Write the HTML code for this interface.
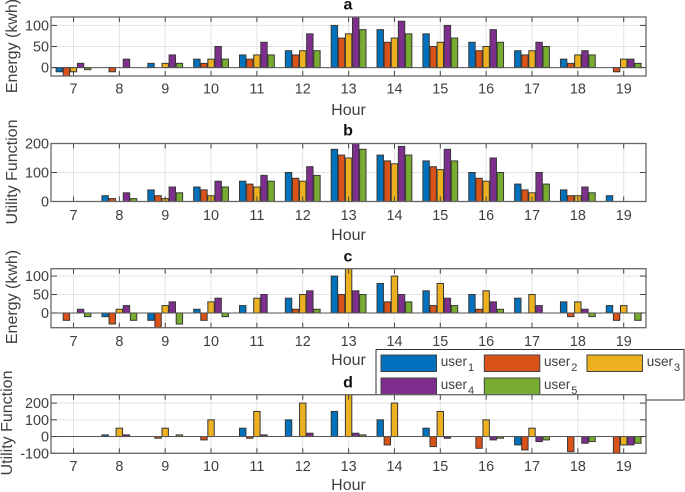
<!DOCTYPE html>
<html>
<head>
<meta charset="utf-8">
<title>Energy and utility by hour</title>
<style>
html,body{margin:0;padding:0;background:#fff;width:685px;height:492px;overflow:hidden}
svg{display:block;font-family:"Liberation Sans",sans-serif}
</style>
</head>
<body>
<svg id="chart" width="685" height="492" viewBox="0 0 685 492" xmlns="http://www.w3.org/2000/svg"></svg>
<script>
const hours = [7,8,9,10,11,12,13,14,15,16,17,18,19];
const seriesNames = ['user1','user2','user3','user4','user5'];

const panelAUser1 = [-10,0,10,20,30,40,100,90,80,60,40,20,0];
const panelAUser2 = [-20,-10,0,10,20,30,70,60,50,40,30,10,-10];
const panelAUser3 = [-10,0,10,20,30,40,80,70,60,50,40,30,20];
const panelAUser4 = [10,20,30,50,60,80,120,110,100,90,60,40,20];
const panelAUser5 = [-5,0,10,20,30,40,90,80,70,60,50,30,10];

const panelBUser1 = [0,20,40,50,70,100,180,160,140,100,60,40,20];
const panelBUser2 = [0,10,20,40,60,80,160,140,120,80,40,20,0];
const panelBUser3 = [0,0,10,20,50,70,150,130,110,70,30,20,0];
const panelBUser4 = [0,30,50,70,90,120,200,190,180,150,100,50,0];
const panelBUser5 = [0,10,30,50,70,90,180,160,140,100,60,30,0];

const panelCUser1 = [0,-10,-20,10,20,40,100,80,60,50,40,30,20];
const panelCUser2 = [-20,-30,-40,-20,0,10,50,30,20,10,0,-10,-20];
const panelCUser3 = [0,10,20,30,40,50,120,100,80,60,50,30,20];
const panelCUser4 = [10,20,30,40,50,60,60,50,40,30,20,10,0];
const panelCUser5 = [-10,-20,-30,-10,0,10,50,30,20,10,0,-10,-20];

const panelDUser1 = [0,10,0,0,50,100,150,100,50,0,-50,0,0];
const panelDUser2 = [0,0,-10,-20,-10,0,0,-50,-60,-70,-80,-90,-100];
const panelDUser3 = [0,50,50,100,150,200,250,200,150,100,50,0,-50];
const panelDUser4 = [0,10,0,0,10,20,20,0,-10,-20,-30,-40,-50];
const panelDUser5 = [0,0,10,0,0,0,10,0,0,-10,-20,-30,-40];

const panelATicks = [0,50,100];
const panelBTicks = [0,100,200];
const panelCTicks = [0,50,100];
const panelDTicks = [-100,0,100,200];

const colors = ['#0072BD','#D95319','#EDB120','#7E2F8E','#77AC30'];
const NS = 'http://www.w3.org/2000/svg';
const root = document.getElementById('chart');

function mk(parent, tag, attrs, text) {
  const el = document.createElementNS(NS, tag);
  for (const k in attrs) el.setAttribute(k, attrs[k]);
  if (text !== undefined) el.textContent = text;
  parent.appendChild(el);
  return el;
}

const axLeft = 51, axRight = 646;
function xScale(h) { return 73.5 + (h - 7) * 45.85; }

function drawPanel(p) {
  const g = mk(root, 'g', {});
  
  
  const y = v => p.top + (p.ymax - v) * (p.bottom - p.top) / (p.ymax - p.ymin);
  const bg = mk(g, 'rect', {x:axLeft, y:p.top, width:axRight-axLeft, height:p.bottom-p.top, fill:'#fff'});
  
  

  const clipId = 'clip-' + p.id;
  const cp = mk(g, 'clipPath', {id:clipId});
  mk(cp, 'rect', {x:axLeft, y:p.top, width:axRight-axLeft, height:p.bottom-p.top});

  hours.forEach(h => {
    const line = mk(g, 'line', {x1:xScale(h), x2:xScale(h), y1:p.top, y2:p.bottom, stroke:'#e2e2e2', 'stroke-width':1});
    
    
  });
  p.ticks.forEach(t => {
    const line = mk(g, 'line', {x1:axLeft, x2:axRight, y1:y(t), y2:y(t), stroke:'#e2e2e2', 'stroke-width':1});
    
    
  });

  const bars = mk(g, 'g', {'clip-path':'url(#' + clipId + ')'});
  p.series.forEach((vals, s) => {
    vals.forEach((v, i) => {
      if (v === 0) return;
      const cx = xScale(hours[i]) + (s - 2) * 7.1;
      const y0 = y(0), yv = y(v);
      const bar = mk(bars, 'rect', {x:cx-3.2, y:Math.min(y0,yv), width:6.4, height:Math.abs(yv-y0), fill:colors[s], stroke:'#383838', 'stroke-width':1});
      
      
    });
  });

  const base = mk(g, 'line', {x1:axLeft, x2:axRight, y1:y(0), y2:y(0), stroke:'#555', 'stroke-width':1});
  
  

  hours.forEach(h => {
    mk(g, 'line', {x1:xScale(h), x2:xScale(h), y1:p.top, y2:p.top+5, stroke:'#444', 'stroke-width':1});
    mk(g, 'line', {x1:xScale(h), x2:xScale(h), y1:p.bottom-5, y2:p.bottom, stroke:'#444', 'stroke-width':1});
    const lab = mk(g, 'text', {x:xScale(h), y:p.tickBase, 'text-anchor':'middle', 'font-size':14.4, fill:'#404040'}, String(h));
    
    
  });
  p.ticks.forEach(t => {
    mk(g, 'line', {x1:axLeft, x2:axLeft+6, y1:y(t), y2:y(t), stroke:'#444', 'stroke-width':1});
    mk(g, 'line', {x1:axRight-6, x2:axRight, y1:y(t), y2:y(t), stroke:'#444', 'stroke-width':1});
    const lab = mk(g, 'text', {x:49, y:y(t)+5, 'text-anchor':'end', 'font-size':14.4, fill:'#404040'}, String(t));
    
    
  });

  const frame = mk(g, 'rect', {x:axLeft, y:p.top, width:axRight-axLeft, height:p.bottom-p.top, fill:'none', stroke:'#666', 'stroke-width':1.3});
  
  

  const title = mk(g, 'text', {x:348, y:p.titleBase, 'text-anchor':'middle', 'font-size':16, 'font-weight':'bold', fill:'#111'}, p.id);
  
  

  const xl = mk(g, 'text', {x:348.5, y:p.xlabelBase, 'text-anchor':'middle', 'font-size':16, fill:'#404040'}, 'Hour');
  
  

  const yl = mk(g, 'text', {transform:'translate(' + p.ylabelX + ',' + p.ylabelY + ') rotate(-90)', 'text-anchor':'middle', 'font-size':16, fill:'#404040'}, p.ylabel);
  
  
}

function drawLegend() {
  const g = mk(root, 'g', {});
  
  
  const box = mk(g, 'rect', {x:376, y:349.5, width:308, height:50.5, fill:'#fff', stroke:'#333', 'stroke-width':1});
  
  
  const slots = [[381,355],[484.3,355],[587,355],[381,378],[484.3,378]];
  slots.forEach((pos, i) => {
    const entry = mk(g, 'g', {});
    
    
    mk(entry, 'rect', {x:pos[0], y:pos[1], width:55.5, height:16.5, fill:colors[i], stroke:'#444', 'stroke-width':1});
    const t = mk(entry, 'text', {x:pos[0]+59.7, y:pos[1]+11.2, 'font-size':13.5, fill:'#404040'}, 'user');
    mk(t, 'tspan', {'font-size':11, dy:5, dx:1}, String(i + 1));
  });
}

drawPanel({id:'a', top:17, bottom:76, ymin:-20, ymax:120, ticks:panelATicks, tickBase:93.5, titleBase:9.5, xlabelBase:115, ylabel:'Energy (kwh)', ylabelX:17, ylabelY:46,
  series:[panelAUser1,panelAUser2,panelAUser3,panelAUser4,panelAUser5]});
drawPanel({id:'b', top:143.5, bottom:201.5, ymin:0, ymax:200, ticks:panelBTicks, tickBase:220, titleBase:135.5, xlabelBase:240, ylabel:'Utility Function', ylabelX:17, ylabelY:172,
  series:[panelBUser1,panelBUser2,panelBUser3,panelBUser4,panelBUser5]});
drawPanel({id:'c', top:268.7, bottom:327.7, ymin:-40, ymax:120, ticks:panelCTicks, tickBase:346, titleBase:261.5, xlabelBase:365, ylabel:'Energy (kwh)', ylabelX:17, ylabelY:297,
  series:[panelCUser1,panelCUser2,panelCUser3,panelCUser4,panelCUser5]});
drawLegend();
drawPanel({id:'d', top:394.7, bottom:453.3, ymin:-100, ymax:250, ticks:panelDTicks, tickBase:471, titleBase:387.5, xlabelBase:490, ylabel:'Utility Function', ylabelX:12, ylabelY:423,
  series:[panelDUser1,panelDUser2,panelDUser3,panelDUser4,panelDUser5]});
</script>
</body>
</html>
